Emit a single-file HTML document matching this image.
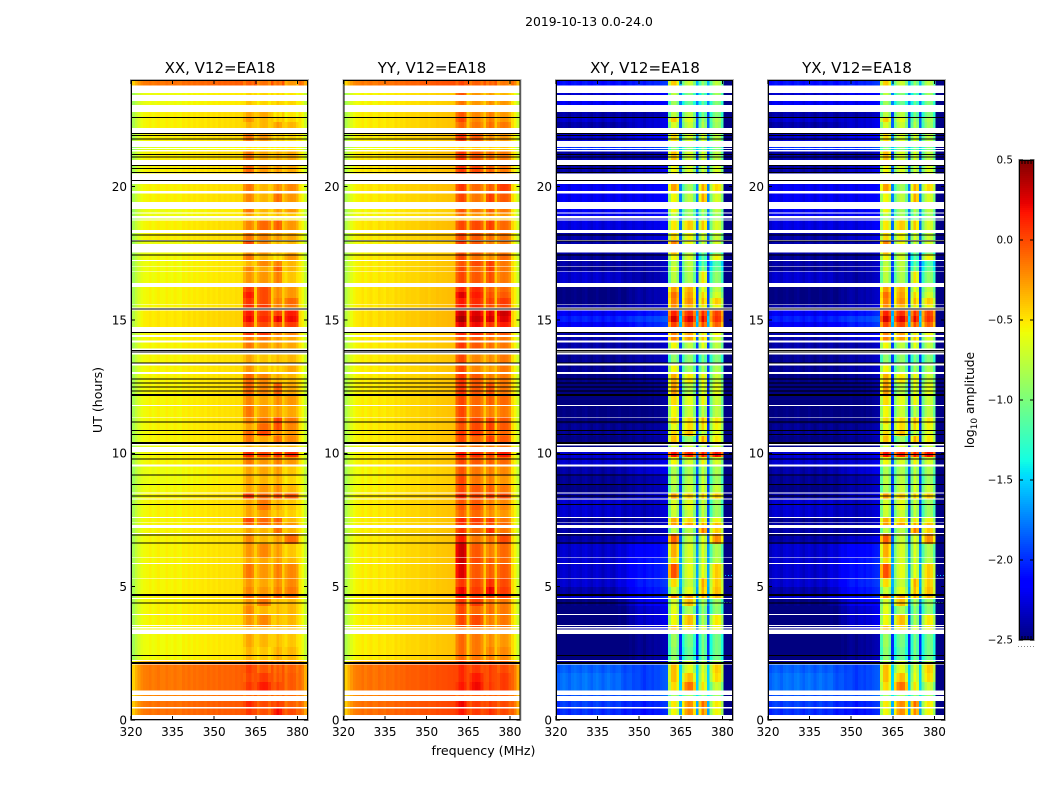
<!DOCTYPE html>
<html lang="en">
<head>
<meta charset="utf-8">
<title>2019-10-13 0.0-24.0</title>
<style>
html,body{margin:0;padding:0;background:#fff;}
svg{display:block;}
text{font-family:"DejaVu Sans","Liberation Sans",sans-serif;fill:#000;}
</style>
</head>
<body>
<svg id="figure" xmlns="http://www.w3.org/2000/svg" width="1050" height="800" viewBox="0 0 1050 800">
  <rect x="0" y="0" width="1050" height="800" fill="#fff"/>
  <text x="589" y="26" font-size="12.4" text-anchor="middle">2019-10-13 0.0-24.0</text>
  <text x="220" y="73" font-size="15" text-anchor="middle">XX, V12=EA18</text>
  <text x="432" y="73" font-size="15" text-anchor="middle">YY, V12=EA18</text>
  <text x="645" y="73" font-size="15" text-anchor="middle">XY, V12=EA18</text>
  <text x="857" y="73" font-size="15" text-anchor="middle">YX, V12=EA18</text>
  <text transform="translate(102,400) rotate(-90)" font-size="12.6" text-anchor="middle">UT (hours)</text>
  <text x="483.5" y="755" font-size="12.6" text-anchor="middle">frequency (MHz)</text>
  <text transform="translate(974,400) rotate(-90)" font-size="12.3" text-anchor="middle">log<tspan font-size="9" dy="3">10</tspan><tspan dy="-3"> amplitude</tspan></text>
  <g id="plots"></g>
  <g id="colorbar"></g>
</svg>
<script>
const freqTicks = [320, 335, 350, 365, 380];
const utTicks = [0, 5, 10, 15, 20];
const colorbarTicks = [-2.5, -2.0, -1.5, -1.0, -0.5, 0.0, 0.5];
const colorbarLabels = ["\u22122.5", "\u22122.0", "\u22121.5", "\u22121.0", "\u22120.5", "0.0", "0.5"];

// Recorded time ranges, UT hours [start, end]; anything else is flagged (white).
const utBands = [
[23.79,24.0],[23.44,23.52],[23.06,23.21],[22.61,22.8],[22.43,22.61],[22.2,22.43],[21.72,22.02],[21.45,21.49],[21.38,21.41],[21.0,21.31],
[20.49,20.8],[19.83,20.1],[19.43,19.75],[19.04,19.16],[18.9,18.99],[18.77,18.81],[18.38,18.74],[18.0,18.26],[17.85,17.96],[17.48,17.54],
[17.25,17.48],[17.03,17.22],[16.84,17.0],[16.39,16.81],[16.05,16.24],[15.83,16.05],[15.59,15.83],[15.46,15.56],[15.15,15.36],[14.93,15.15],
[14.74,14.93],[14.44,14.51],[14.24,14.37],[13.94,14.16],[13.39,13.71],[13.05,13.29],[12.64,12.98],[12.19,12.64],[11.81,12.19],[11.36,11.78],
[11.1,11.34],[10.88,11.1],[10.65,10.88],[10.39,10.65],[10.24,10.3],[9.86,10.05],[9.59,9.86],[9.15,9.5],[8.85,9.15],[8.53,8.85],
[8.3,8.5],[7.88,8.26],[7.61,7.88],[7.41,7.58],[7.31,7.39],[7.01,7.2],[6.6,6.98],[6.1,6.6],[5.89,6.08],[5.33,5.85],
[4.99,5.3],[4.69,4.99],[4.58,4.65],[4.28,4.54],[3.98,4.28],[3.56,3.94],[3.49,3.53],[3.39,3.44],[2.74,3.23],[2.25,2.74],
[2.11,2.21],[1.76,2.09],[1.43,1.76],[1.1,1.43],[0.9,0.94],[0.48,0.71],[0.19,0.44],[0,0.04]
];

// Black flagged integrations, UT hours.
const flaggedLines = [22.6,22.0,21.91,21.78,21.2,21.12,20.79,20.69,20.54,20.24,18.19,17.96,17.43,15.41,14.54,13.85,13.8,13.39,12.79,12.63,12.48,12.34,12.2,12.17,11.18,10.86,10.71,10.41,10.37,9.96,9.79,9.18,8.84,8.4,8.09,6.93,6.63,4.7,4.66,4.38,2.42,2.15,2.11];

// Parallel hands per band: [low-band level, sub-band 1, 2, 3, 4], log10 amplitude.
const xxRows = [
[-.05,-.02,-.08,-.05,-.2],[-.5,-.4,-.4,-.4,-.45],[-.5,-.35,-.4,-.35,-.4],[-.45,-.25,-.25,-.4,-.45],[-.45,-.2,-.3,-.35,-.4],
[-.45,-.3,-.3,-.2,-.3],[-.45,-.1,-.2,-.35,-.4],[-.55,-.45,-.45,-.45,-.45],[-.55,-.45,-.45,-.45,-.45],[-.45,-.1,-.25,-.25,-.25],
[-.45,-.05,-.2,-.2,-.25],[-.45,-.1,-.3,-.15,-.15],[-.45,-.15,-.3,-.05,-.2],[-.5,-.1,-.3,-.2,-.2],[-.5,-.25,-.35,-.3,-.35],
[-.55,-.45,-.45,-.45,-.45],[-.45,-.15,-.05,0,-.2],[-.45,-.1,-.15,-.2,-.25],[-.5,.05,-.15,-.3,-.3],[-.5,-.2,-.2,-.3,-.25],
[-.48,-.1,-.3,-.4,-.2],[-.48,-.3,-.15,-.1,-.3],[-.48,-.15,-.25,0,-.3],[-.48,-.2,-.2,-.1,-.35],[-.46,.1,.05,-.15,-.2],
[-.46,.2,.05,-.15,-.2],[-.46,.12,.05,-.1,-.05],[-.46,.15,.1,-.1,-.1],[-.42,.2,.1,.1,.2],[-.42,.25,.15,.3,.25],
[-.42,.1,.05,.05,.1],[-.46,.1,.1,-.1,-.15],[-.46,-.1,-.1,-.2,-.25],[-.46,-.1,-.2,-.2,-.25],[-.46,-.25,-.35,-.3,-.3],
[-.46,-.2,-.35,-.35,-.25],[-.46,-.05,-.15,-.25,-.3],[-.46,-.05,-.15,0,-.25],[-.46,-.15,-.25,-.15,-.2],[-.46,-.1,-.2,-.2,-.25],
[-.46,-.15,-.1,.1,-.1],[-.46,-.25,-.05,.05,-.15],[-.46,-.05,.05,-.15,-.2],[-.46,-.1,-.25,-.05,-.15],[-.5,-.3,-.3,-.3,-.3],
[-.46,.15,.08,.15,.15],[-.46,-.1,-.2,-.1,-.2],[-.5,-.25,-.25,-.2,-.35],[-.5,-.25,-.3,-.25,-.4],[-.48,-.25,-.2,-.15,-.3],
[-.46,.1,-.05,.05,0],[-.46,-.25,-.1,-.25,-.35],[-.46,-.25,-.2,-.3,-.38],[-.46,.05,-.05,0,-.3],[-.46,-.05,-.05,-.1,-.2],
[-.46,-.25,-.3,-.05,-.3],[-.46,-.15,-.3,-.2,-.05],[-.46,-.2,-.15,-.2,-.35],[-.46,-.25,-.25,-.2,-.3],[-.46,-.1,-.2,-.1,-.15],
[-.46,-.2,-.25,-.15,-.15],[-.46,-.15,-.2,-.1,-.1],[-.46,-.05,-.1,0,-.1],[-.46,-.2,-.1,-.3,-.3],[-.46,-.15,-.3,-.3,-.3],
[-.46,-.2,-.15,-.3,-.3],[-.46,-.2,-.2,-.25,-.3],[-.46,-.3,-.3,-.3,-.3],[-.48,-.25,-.3,-.3,-.35],[-.48,-.3,-.35,-.25,-.3],
[-.22,-.1,-.1,-.15,-.2],[-.06,.08,0,0,-.02],[-.06,.05,.1,.02,0],[-.06,.1,.2,.08,0],[-.1,-.05,-.05,-.05,-.05],
[-.04,.15,.05,.1,-.02],[-.04,.1,.03,.25,.05],[-.04,-.05,-.05,-.05,-.05]
];
const yyRows = [
[-.05,.05,-.02,-.02,-.1],[-.45,0,-.2,-.2,-.3],[-.45,-.1,-.2,-.15,-.2],[-.42,0,-.15,-.1,-.2],[-.42,.05,-.15,-.1,-.2],
[-.42,-.05,-.1,-.05,-.1],[-.42,.1,0,-.15,-.2],[-.5,-.35,-.35,-.35,-.35],[-.5,-.35,-.35,-.35,-.35],[-.4,.1,0,-.05,-.1],
[-.4,.1,.05,0,-.1],[-.4,.1,-.05,0,.1],[-.42,.05,-.1,.1,0],[-.45,0,-.1,0,-.1],[-.45,-.1,-.2,-.15,-.2],
[-.5,-.35,-.35,-.35,-.35],[-.4,.05,.05,.1,-.05],[-.42,.05,0,-.05,-.1],[-.45,.1,0,-.1,-.1],[-.45,0,0,-.1,-.1],
[-.42,.05,-.1,-.15,-.05],[-.42,0,.05,.1,-.1],[-.42,.05,-.05,.1,-.1],[-.42,.05,0,.05,-.1],[-.4,.15,.15,0,-.05],
[-.4,.3,.2,.05,0],[-.4,.2,.15,.1,.1],[-.4,.2,.15,.05,.05],[-.38,.35,.3,.3,.35],[-.38,.45,.35,.35,.3],
[-.38,.3,.25,.15,.2],[-.42,.15,.15,.05,0],[-.42,0,0,-.05,-.1],[-.42,.1,0,-.05,-.1],[-.42,.05,-.15,-.15,-.1],
[-.42,.05,-.15,-.2,-.1],[-.42,.1,0,-.1,-.1],[-.42,.1,0,.05,-.1],[-.42,.05,-.05,0,-.05],[-.42,.05,-.05,-.1,-.1],
[-.42,.05,.05,.1,0],[-.42,0,.05,.1,0],[-.42,.1,.1,0,-.05],[-.42,.05,-.05,.1,0],[-.45,-.1,-.1,-.1,-.1],
[-.42,.2,.15,.1,.2],[-.42,.05,0,0,-.05],[-.45,0,-.1,-.1,-.15],[-.45,.05,-.1,-.1,-.2],[-.44,.05,0,0,-.1],
[-.42,.15,.05,.1,.05],[-.42,0,0,-.1,-.15],[-.42,-.05,-.05,-.15,-.2],[-.42,.15,.1,.1,-.1],[-.42,.1,.05,.05,-.05],
[-.42,.1,-.05,.15,-.1],[-.42,.2,-.1,-.05,.05],[-.42,.35,0,-.1,-.05],[-.42,.35,.05,0,-.05],[-.42,.3,0,0,0],
[-.42,.1,.05,.15,.05],[-.42,.25,.1,.3,.1],[-.42,.2,.1,.1,.1],[-.42,.1,.1,-.05,-.1],[-.42,.05,-.05,-.05,-.1],
[-.42,.05,.05,-.1,-.1],[-.42,0,0,-.1,-.1],[-.42,-.1,-.1,-.15,-.15],[-.42,-.05,-.1,-.15,-.2],[-.42,-.05,-.1,-.1,-.15],
[-.2,.05,.05,0,-.05],[-.03,.15,.1,.1,.05],[-.03,.15,.2,.1,.1],[-.03,.2,.25,.12,.1],[-.08,0,0,0,0],
[-.02,.25,.1,.1,.05],[-.02,.2,.1,.15,.05],[-.02,0,0,0,0]
];

// Cross hands per band: [level near 320, level near 360, sub-band 1, 2, 3, 4], log10 amplitude.
const xyRows = [
[-2.0,-1.95,-.55,-.85,-1.0,-.9],[-2.2,-2.1,-.9,-1.1,-1.2,-1.0],[-2.1,-2.1,-1.0,-1.2,-1.2,-1.1],[-2.3,-2.3,-.9,-.9,-1.1,-1.1],[-2.2,-2.2,-.55,-.75,-.95,-.95],
[-2.3,-2.2,-.8,-.85,-.9,-1.0],[-2.2,-2.1,-.6,-.8,-.75,-.9],[-1.9,-1.9,-1.1,-1.1,-1.1,-1.1],[-1.9,-1.9,-1.1,-1.1,-1.1,-1.1],[-2.3,-2.3,-.5,-.8,-.75,-.9],
[-2.3,-2.2,-.7,-.8,-.8,-.8],[-2.1,-2.1,-.4,-1.0,-.4,-.6],[-2.1,-2.1,-.7,-.9,-.4,-.8],[-2.1,-2.1,-.7,-1.0,-.9,-.9],[-2.1,-2.1,-.9,-1.0,-1.0,-1.0],
[-2.2,-2.2,-1.0,-1.0,-1.0,-1.0],[-2.15,-2.15,-.65,-.55,-.5,-.8],[-2.3,-2.2,-.6,-.7,-.75,-.85],[-2.3,-2.3,-.3,-.7,-.8,-.8],[-2.3,-2.3,-.5,-.9,-1.1,-1.1],
[-2.35,-2.35,-.7,-.8,-1.2,-.7],[-2.3,-2.3,-.9,-.9,-1.2,-1.3],[-2.35,-2.3,-.8,-.9,-1.05,-1.2],[-2.2,-2.3,-.9,-.95,-.6,-1.05],[-2.4,-2.3,-.4,-.45,-.7,-.9],
[-2.4,-2.3,-.25,-.4,-.55,-.8],[-2.4,-2.3,-.3,-.35,-.45,-.55],[-2.3,-2.25,-.35,-.5,-.6,-.7],[-2.1,-2.0,0,-.05,0,-.1],[-1.95,-1.85,.15,.12,.12,-.05],
[-2.1,-1.95,-.1,-.1,-.1,-.2],[-2.3,-2.2,-.3,-.4,-.6,-.7],[-2.3,-2.2,-.3,-.4,-.5,-.8],[-2.3,-2.3,-.7,-.9,-.7,-.9],[-2.35,-2.3,-1.05,-1.05,-1.1,-1.1],
[-2.35,-2.3,-.7,-1.0,-.95,-.95],[-2.4,-2.35,-.45,-.65,-.65,-.85],[-2.45,-2.4,-.4,-.9,-.7,-.75],[-2.45,-2.4,-.6,-.75,-.65,-.85],[-2.4,-2.4,-.7,-.85,-.85,-.9],
[-2.4,-2.4,-.6,-.6,-.45,-.65],[-2.35,-2.35,-.75,-.6,-.55,-.7],[-2.35,-2.3,-.6,-.5,-.8,-.75],[-2.4,-2.35,-.5,-1.0,-.4,-.65],[-2.4,-2.4,-.8,-.8,-.8,-.8],
[-2.2,-2.2,.05,0,.05,.05],[-2.2,-2.2,-.7,-.8,-.65,-.8],[-2.3,-2.2,-.95,-.95,-.85,-.95],[-2.35,-2.3,-.9,-.9,-.8,-1.0],[-2.4,-2.3,-.95,-.85,-.75,-.85],
[-2.3,-2.2,-.4,-.55,-.5,-.55],[-2.2,-2.25,-.8,-.75,-.8,-1.0],[-2.2,-2.25,-.85,-.85,-.85,-1.0],[-2.35,-2.3,-.45,-.6,-.6,-.7],[-2.3,-2.3,-.4,-.4,-.4,-.5],
[-2.3,-2.3,-.9,-.9,-.25,-.55],[-2.3,-2.2,-.2,-.85,-.7,-.35],[-2.2,-2.05,-.45,-.8,-.75,-.95],[-2.2,-2.0,-.6,-.8,-.75,-.9],[-2.2,-2.0,-.15,-.75,-.7,-.55],
[-2.2,-1.95,-.6,-.85,-.4,-.55],[-2.3,-2.0,-.85,-.75,-.45,-.5],[-2.2,-2.0,-.3,-.4,-.4,-.5],[-2.4,-2.1,-.8,-.5,-.9,-1.0],[-2.45,-2.2,-.75,-.95,-1.0,-1.05],
[-2.45,-2.2,-.7,-.5,-.9,-.65],[-2.4,-2.2,-.5,-.6,-.7,-.7],[-2.4,-2.2,-.5,-.6,-.7,-.7],[-2.45,-2.35,-1.0,-1.15,-1.1,-1.15],[-2.45,-2.35,-1.05,-1.2,-1.1,-1.15],
[-2.3,-2.2,-.9,-.8,-.9,-.9],[-1.75,-1.85,-.5,-.75,-.75,-.55],[-1.7,-1.85,-.5,-.5,-.7,-.6],[-1.7,-1.85,-.6,-.25,-.6,-.85],[-1.8,-1.8,-1.0,-1.0,-1.0,-1.0],
[-1.85,-1.95,-.65,-.35,-.2,-.65],[-1.9,-2.0,-.7,-.35,-.3,-.7],[-2.0,-2.0,-1.0,-1.0,-1.0,-1.0]
];
const yxRows = xyRows;

// Channel profiles (65 channels, lower edge 319.4 MHz + index). Offsets added to the row levels.
const subbandOfChannel = [
-1,-1,-1,-1,-1,-1,-1,-1,-1,-1,-1,-1,-1,-1,-1,-1,-1,-1,-1,-1,
-1,-1,-1,-1,-1,-1,-1,-1,-1,-1,-1,-1,-1,-1,-1,-1,-1,-1,-1,-1,-1,
0,0,0,0,-1,1,1,1,1,1,-1,2,2,2,-1,3,3,3,3,3,-1,-1,-1,-1
];
const xxSpectrum = [
-.42,-.38,-.28,-.2,-.14,-.11,-.1,-.08,-.11,-.09,
-.07,-.1,-.1,-.07,-.09,-.1,-.07,-.09,-.1,-.06,
-.08,-.05,-.08,-.05,-.07,-.05,-.04,-.06,-.03,-.05,
-.03,-.05,-.02,-.04,-.02,-.03,-.02,-.03,-.01,-.02,0,
-.14,-.05,-.03,-.1,.04,-.14,-.06,-.04,-.05,-.13,.04,-.13,-.05,-.1,.04,-.13,-.06,-.04,-.06,-.14,
-.04,-.12,-.26,-.42
];
const yySpectrum = [
-.45,-.4,-.3,-.22,-.16,-.13,-.12,-.09,-.13,-.1,
-.08,-.12,-.11,-.07,-.09,-.11,-.07,-.08,-.09,-.05,
-.07,-.05,-.06,-.03,-.04,-.03,-.03,-.04,-.01,-.01,
0,-.02,0,0,.02,.01,.02,.02,.03,.03,.04,
-.14,-.05,-.03,-.1,.02,-.14,-.06,-.04,-.05,-.13,.02,-.13,-.05,-.1,.02,-.13,-.06,-.04,-.06,-.14,
-.05,-.14,-.3,-.48
];
const xySpectrum = [
-.22,-.15,-.1,-.07,-.1,-.14,-.08,-.06,-.09,-.12,
-.07,-.05,-.1,-.14,-.09,-.06,-.1,-.15,-.1,-.07,
-.11,-.14,-.09,-.07,-.12,-.15,-.1,-.08,-.12,-.09,
-.07,-.1,-.14,-.09,-.07,-.1,-.06,-.07,-.04,-.02,0,
-.2,.12,.15,-.05,.35,-.2,.05,.15,.12,-.15,.35,-.2,.12,-.05,.35,-.22,.05,.15,.1,-.2,
0,0,0,0
];
const xyLowWeight = [
0,0,0,0,0,0,0,0,0,0,0,0,0,0,0,0,0,0,0,0,0,0,
.1,.2,.3,.4,.5,.6,.7,.8,.9,
1,1,1,1,1,1,1,1,1,1
];
const crossEdgeLevel = -2.48;

// Isolated bright pixels beyond the top of the band in the cross hands.
const hotUt = [5.44,5.44,5.44,4.43,4.43,4.43,4.43];
const hotFreq = [381,382,383,380.5,381.5,382.5,383.4];
const hotValue = [-1.6,-1.5,-1.6,-1.3,-1.2,-1.3,-1.2];

const FREQ_MIN = 320, FREQ_MAX = 383.8, UT_MIN = 0, UT_MAX = 24;
const PLOT_TOP = 80, PLOT_BOTTOM = 720, PLOT_WIDTH = 177;
const CHANNEL_ORIGIN = 319.4;
const SVGNS = 'http://www.w3.org/2000/svg';

function jetChannel(points, t) {
  for (let i = 1; i < points.length; i++) {
    if (t <= points[i][0]) {
      const a = points[i - 1], b = points[i];
      return a[1] + (b[1] - a[1]) * (t - a[0]) / (b[0] - a[0]);
    }
  }
  return points[points.length - 1][1];
}
const jetR = [[0,0],[.35,0],[.66,1],[.89,1],[1,.5]];
const jetG = [[0,0],[.125,0],[.375,1],[.64,1],[.91,0],[1,0]];
const jetB = [[0,.5],[.11,1],[.34,1],[.65,0],[1,0]];
function colorOf(v) {
  const t = Math.min(1, Math.max(0, (v + 2.5) / 3));
  const r = Math.round(255 * jetChannel(jetR, t));
  const g = Math.round(255 * jetChannel(jetG, t));
  const b = Math.round(255 * jetChannel(jetB, t));
  return 'rgb(' + r + ',' + g + ',' + b + ')';
}
function make(tag, parent, attrs) {
  const el = document.createElementNS(SVGNS, tag);
  for (const k in attrs) el.setAttribute(k, attrs[k]);
  parent.appendChild(el);
  return el;
}
function yScale(ut) {
  return PLOT_BOTTOM - (ut - UT_MIN) / (UT_MAX - UT_MIN) * (PLOT_BOTTOM - PLOT_TOP);
}
function xScale(panelX, f) {
  return panelX + (f - FREQ_MIN) / (FREQ_MAX - FREQ_MIN) * PLOT_WIDTH;
}
function parallelValue(row, spectrum, j) {
  const s = subbandOfChannel[j];
  return (s >= 0 ? row[s + 1] : row[0]) + spectrum[j];
}
function crossValue(row, spectrum, j) {
  const s = subbandOfChannel[j];
  if (s >= 0) return row[s + 2] + spectrum[j];
  if (j >= 61) return crossEdgeLevel;
  if (j >= 41) return row[1] + spectrum[j];
  return row[0] + (row[1] - row[0]) * xyLowWeight[j] + spectrum[j];
}

const panelNames = ['xx', 'yy', 'xy', 'yx'];
const panelLeft = [131, 343.5, 556, 768];
const panelRows = [xxRows, yyRows, xyRows, yxRows];
const panelSpectra = [xxSpectrum, yySpectrum, xySpectrum, xySpectrum];
const panelValue = [parallelValue, parallelValue, crossValue, crossValue];

const plots = document.getElementById('plots');
panelNames.forEach(function (name, p) {
  const px = panelLeft[p];
  const g = make('g', plots, {});
  
  

  const clip = make('clipPath', g, { id: 'clip-' + name });
  make('rect', clip, { x: px, y: PLOT_TOP, width: PLOT_WIDTH, height: PLOT_BOTTOM - PLOT_TOP });

  const heat = make('g', g, { 'clip-path': 'url(#clip-' + name + ')', 'shape-rendering': 'crispEdges' });
  
  

  utBands.forEach(function (band, r) {
    const y0 = yScale(band[1]), y1 = yScale(band[0]);
    for (let j = 0; j < subbandOfChannel.length; j++) {
      const x0 = xScale(px, CHANNEL_ORIGIN + j), x1 = xScale(px, CHANNEL_ORIGIN + j + 1);
      const cell = make('rect', heat, {
        x: x0.toFixed(2), y: y0.toFixed(2),
        width: (x1 - x0).toFixed(2), height: (y1 - y0).toFixed(2),
        fill: colorOf(panelValue[p](panelRows[p][r], panelSpectra[p], j))
      });
      
      
    }
  });

  if (p >= 2) {
    hotUt.forEach(function (ut, i) {
      const hot = make('rect', heat, {
        x: xScale(px, hotFreq[i]).toFixed(1), y: yScale(ut).toFixed(1),
        width: 1, height: 1, fill: colorOf(hotValue[i])
      });
      
      
    });
  }

  flaggedLines.forEach(function (ut) {
    const line = make('line', heat, {
      x1: px, x2: px + PLOT_WIDTH, y1: yScale(ut).toFixed(2), y2: yScale(ut).toFixed(2),
      stroke: '#000', 'stroke-width': 1
    });
    
    
  });

  const halo = make('rect', g, {
    x: px - 0.5, y: PLOT_TOP - 0.5, width: PLOT_WIDTH + 1, height: PLOT_BOTTOM - PLOT_TOP + 1,
    fill: 'none', stroke: '#b5b5b5', 'stroke-width': 1, 'shape-rendering': 'crispEdges'
  });
  
  
  const frame = make('rect', g, {
    x: px + 0.5, y: PLOT_TOP + 0.5, width: PLOT_WIDTH - 1, height: PLOT_BOTTOM - PLOT_TOP - 1,
    fill: 'none', stroke: '#000', 'stroke-width': 1, 'shape-rendering': 'crispEdges'
  });
  
  

  freqTicks.forEach(function (f) {
    const x = xScale(px, f);
    [[PLOT_BOTTOM, PLOT_BOTTOM - 4], [PLOT_TOP, PLOT_TOP + 4]].forEach(function (e) {
      const t = make('line', g, { x1: x, x2: x, y1: e[0], y2: e[1], stroke: '#000', 'stroke-width': 1, 'shape-rendering': 'crispEdges' });
      
      
    });
    const lab = make('text', g, { x: x, y: 736, 'font-size': 12, 'text-anchor': 'middle' });
    lab.textContent = String(f);
    
    
  });

  utTicks.forEach(function (u) {
    const y = yScale(u);
    [[px, px + 4], [px + PLOT_WIDTH, px + PLOT_WIDTH - 4]].forEach(function (e) {
      const t = make('line', g, { x1: e[0], x2: e[1], y1: y, y2: y, stroke: '#000', 'stroke-width': 1, 'shape-rendering': 'crispEdges' });
      
      
    });
    const lab = make('text', g, { x: px - 4, y: y + 4.4, 'font-size': 12, 'text-anchor': 'end' });
    lab.textContent = String(u);
    
    
  });
});

// Colorbar
const CB_X = 1019, CB_W = 15, CB_TOP = 160, CB_BOTTOM = 640, CB_MIN = -2.5, CB_MAX = 0.5, CB_STEPS = 240;
function cbY(v) {
  return CB_BOTTOM - (v - CB_MIN) / (CB_MAX - CB_MIN) * (CB_BOTTOM - CB_TOP);
}
const cb = document.getElementById('colorbar');
for (let i = 0; i < CB_STEPS; i++) {
  const a = CB_MIN + (CB_MAX - CB_MIN) * i / CB_STEPS;
  const b = CB_MIN + (CB_MAX - CB_MIN) * (i + 1) / CB_STEPS;
  const s = make('rect', cb, {
    x: CB_X, y: cbY(b), width: CB_W, height: cbY(a) - cbY(b),
    fill: colorOf((a + b) / 2), 'shape-rendering': 'crispEdges'
  });
  
  
}
const cbHalo = make('rect', cb, { x: CB_X - 0.5, y: CB_TOP - 0.5, width: CB_W + 1, height: CB_BOTTOM - CB_TOP + 1, fill: 'none', stroke: '#b5b5b5', 'stroke-width': 1, 'shape-rendering': 'crispEdges' });


const cbFrame = make('rect', cb, { x: CB_X + 0.5, y: CB_TOP + 0.5, width: CB_W - 1, height: CB_BOTTOM - CB_TOP - 1, fill: 'none', stroke: '#000', 'stroke-width': 1, 'shape-rendering': 'crispEdges' });


colorbarTicks.forEach(function (v, i) {
  const y = cbY(v);
  [[CB_X, CB_X + 4], [CB_X + CB_W, CB_X + CB_W - 4]].forEach(function (e) {
    const t = make('line', cb, { x1: e[0], x2: e[1], y1: y, y2: y, stroke: '#000', 'stroke-width': 1, 'shape-rendering': 'crispEdges' });
    
    
  });
  const lab = make('text', cb, { x: 1013, y: y + 3.6, 'font-size': 10.4, 'text-anchor': 'end' });
  lab.textContent = colorbarLabels[i];
  
  
});
[0.2, 0.4, 0.6, 0.8].forEach(function (fr) {
  const x = CB_X + fr * CB_W;
  [[CB_TOP, CB_TOP + 4], [CB_BOTTOM, CB_BOTTOM - 4]].forEach(function (e) {
    const t = make('line', cb, { x1: x, x2: x, y1: e[0], y2: e[1], stroke: '#000', 'stroke-width': 1, 'shape-rendering': 'crispEdges' });
    
    
  });
});
const cbDots = make('line', cb, { x1: CB_X - 1, x2: CB_X + CB_W + 2, y1: 646.5, y2: 646.5, stroke: '#888', 'stroke-width': 1, 'stroke-dasharray': '1 2' });


</script>
</body>
</html>
